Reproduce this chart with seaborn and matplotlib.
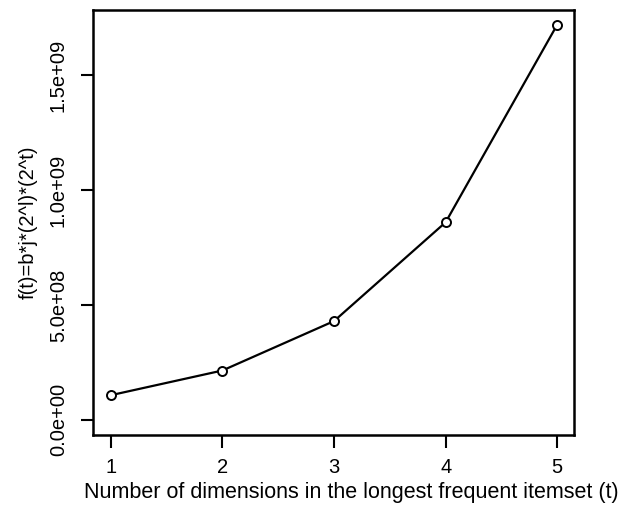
import pandas as pd
import matplotlib
matplotlib.use("Agg")
import matplotlib.pyplot as plt
import seaborn as sns

dimensions = [1, 2, 3, 4, 5]
f_values = [1.075e8, 2.15e8, 4.3e8, 8.6e8, 1.72e9]
y_ticks = [0.0, 5.0e8, 1.0e9, 1.5e9]
y_tick_labels = ["0.0e+00", "5.0e+08", "1.0e+09", "1.5e+09"]

sns.set_style("white")
plt.rcParams["font.family"] = ["Liberation Sans", "DejaVu Sans"]
plt.rcParams["text.color"] = "black"
plt.rcParams["axes.labelcolor"] = "black"
plt.rcParams["xtick.color"] = "black"
plt.rcParams["ytick.color"] = "black"

df = pd.DataFrame({"t": dimensions, "f": f_values})

fig = plt.figure(figsize=(6.28, 5.08), dpi=100)
ax = fig.add_axes([0.148, 0.144, 0.766, 0.836])

sns.lineplot(
    data=df,
    x="t",
    y="f",
    ax=ax,
    color="black",
    linewidth=1.6,
    marker="o",
    markersize=6.5,
    markerfacecolor="white",
    markeredgecolor="black",
    markeredgewidth=1.4,
)

ax.set_xlim(0.84, 5.15)
ax.set_ylim(-6.5e7, 1.783e9)
ax.set_xticks(dimensions)
ax.set_xticklabels([str(d) for d in dimensions], fontsize=14.5)
ax.set_yticks(y_ticks)
ax.set_yticklabels(y_tick_labels, fontsize=14.5, rotation=90, va="center")

for spine in ax.spines.values():
    spine.set_color("black")
    spine.set_linewidth(1.8)

ax.tick_params(axis="both", direction="out", length=9, width=1.5, color="black",
               bottom=True, left=True)
ax.tick_params(axis="x", pad=8)
ax.tick_params(axis="y", pad=9)

ax.set_xlabel("Number of dimensions in the longest frequent itemset (t)", fontsize=15.5)
ax.xaxis.set_label_coords(0.538, -0.112)
ax.set_ylabel("f(t)=b*j*(2^l)*(2^t)", fontsize=14.5, labelpad=8)

plt.savefig("out.png", dpi=100)
plt.close()
